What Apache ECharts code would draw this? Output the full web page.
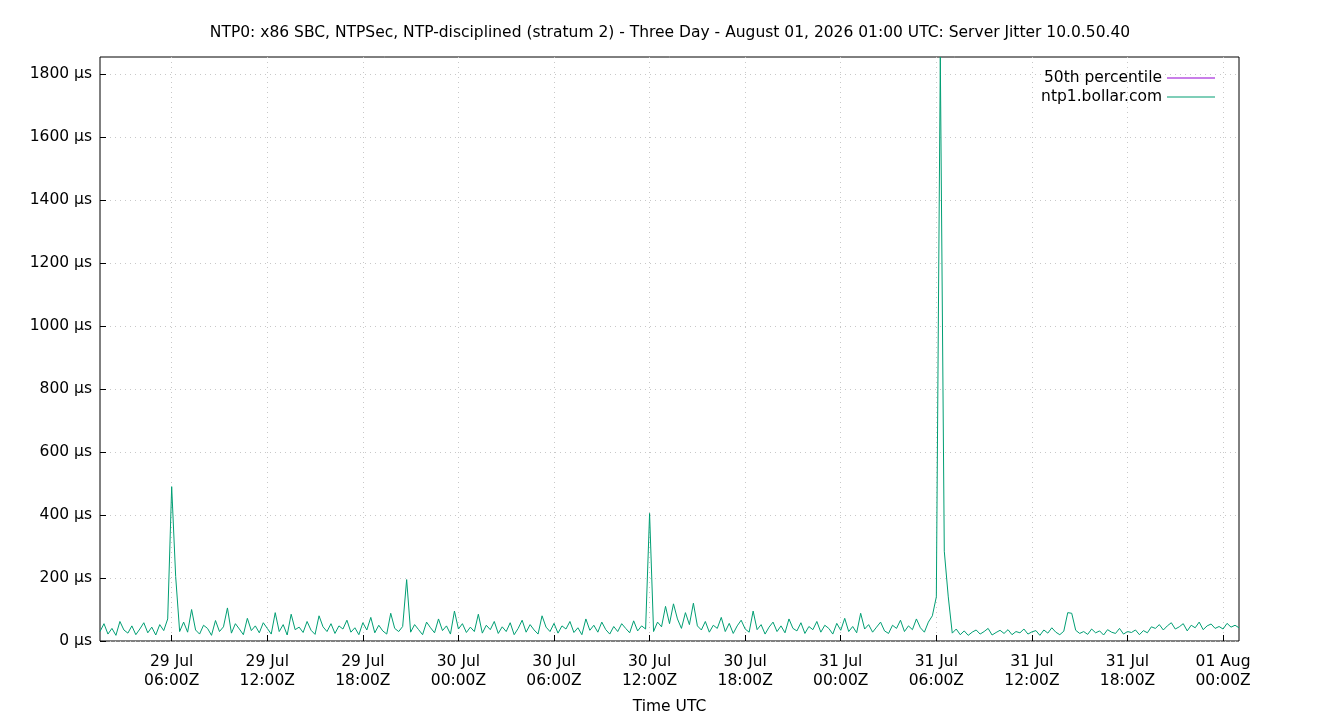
<!DOCTYPE html>
<html><head><meta charset="utf-8">
<script src="https://cdn.jsdelivr.net/npm/echarts@6/dist/echarts.min.js"></script>
<style>html,body{margin:0;padding:0;background:#fff}#c{width:1340px;height:720px}</style>
</head><body><div id="c"></div>
<script>
const title = "NTP0: x86 SBC, NTPSec, NTP-disciplined (stratum 2) - Three Day - August 01, 2026 01:00 UTC: Server Jitter 10.0.50.40";
const startHour = 1.5; // hours after 29 Jul 00:00 UTC
const stepHour = 0.25;
const jitter = [30,55,22,40,18,62,35,25,48,20,38,58,26,44,19,52,33,70,
490,205,30,
60,28,100,35,22,50,40,18,65,30,45,105,25,55,38,20,72,33,48,26,
58,40,22,90,30,52,19,85,36,44,27,62,34,21,80,45,30,55,24,48,
38,66,28,42,20,58,35,75,26,50,32,22,88,40,30,46,
195,
28,52,36,20,60,42,26,70,33,48,22,95,38,55,27,44,30,85,25,50,36,62,24,
45,30,58,20,40,66,28,52,35,22,80,44,30,56,25,48,38,62,27,42,20,70,34,50,28,60,36,22,46,30,55,40,26,64,32,48,38,
405,
30,60,45,110,55,118,70,40,90,52,120,48,
35,62,28,50,40,75,30,56,24,48,66,38,28,95,36,52,22,44,60,30,48,26,70,40,32,58,24,46,36,62,28,50,40,22,56,34,72,30,46,26,88,38,52,28,44,60,32,24,50,40,66,30,48,36,70,42,28,60,80,140,
1854,285,140,
25,38,20,32,18,28,35,22,30,40,19,27,34,24,36,20,30,26,38,22,29,33,18,35,25,42,28,20,31,90,88,34,24,30,21,38,26,32,19,36,28,24,40,22,30,27,35,20,33,26,45,
40,52,35,48,58,38,45,55,32,50,42,60,36,48,54,40,46,38,56,44,50,42];
const xTicks = [6,12,18,24,30,36,42,48,54,60,66,72];
const xTickLabels = ["29 Jul\n06:00Z","29 Jul\n12:00Z","29 Jul\n18:00Z","30 Jul\n00:00Z","30 Jul\n06:00Z","30 Jul\n12:00Z","30 Jul\n18:00Z","31 Jul\n00:00Z","31 Jul\n06:00Z","31 Jul\n12:00Z","31 Jul\n18:00Z","01 Aug\n00:00Z"];
const yTicks = [0,200,400,600,800,1000,1200,1400,1600,1800];

const data = jitter.map((v,i)=>[startHour+i*stepHour, v]);
const font = "DejaVu Sans";
const fs = 15.5;
const chart = echarts.init(document.getElementById('c'));
chart.setOption({
  animation:false,
  textStyle:{fontFamily:font},
  title:{text:title,left:'center',top:20,textStyle:{fontFamily:font,fontSize:fs,fontWeight:'normal',color:'#000'}},
  grid:{left:100,right:101,top:57,bottom:79,show:true,borderColor:'#000',borderWidth:1,backgroundColor:'transparent'},
  legend:{right:120,top:65,orient:'vertical',align:'right',itemWidth:48,itemHeight:1,itemGap:3,icon:'rect',
    textStyle:{fontFamily:font,fontSize:fs,color:'#000'},
    data:[{name:'50th percentile'},{name:'ntp1.bollar.com'}]},
  xAxis:{type:'value',min:startHour,max:73,name:'Time UTC',nameLocation:'middle',nameGap:58,
    nameTextStyle:{fontFamily:font,fontSize:fs,color:'#000'},
    axisLine:{show:false},
    axisTick:{inside:true,length:6,lineStyle:{color:'#000'},customValues:xTicks},
    axisLabel:{customValues:xTicks,formatter:v=>xTickLabels[xTicks.indexOf(v)]||'',fontFamily:font,fontSize:fs,color:'#000',lineHeight:19,margin:11},
    splitLine:{show:true,lineStyle:{color:'#c8c8c8',type:[1,4]}}},
  yAxis:{type:'value',min:0,max:1854,
    axisLine:{show:false},
    axisTick:{inside:true,length:6,lineStyle:{color:'#000'},customValues:yTicks},
    axisLabel:{customValues:yTicks,formatter:v=>v+' µs',fontFamily:font,fontSize:fs,color:'#000',margin:8},
    splitLine:{show:true,lineStyle:{color:'#c8c8c8',type:[1,4]}}},
  series:[
    {name:'50th percentile',type:'line',data:[],symbol:'none',itemStyle:{color:'#9400d3'},lineStyle:{color:'#9400d3',width:1}},
    {name:'ntp1.bollar.com',type:'line',data:data,symbol:'none',itemStyle:{color:'#009e73'},lineStyle:{color:'#009e73',width:1},clip:true}
  ]
});
</script></body></html>
